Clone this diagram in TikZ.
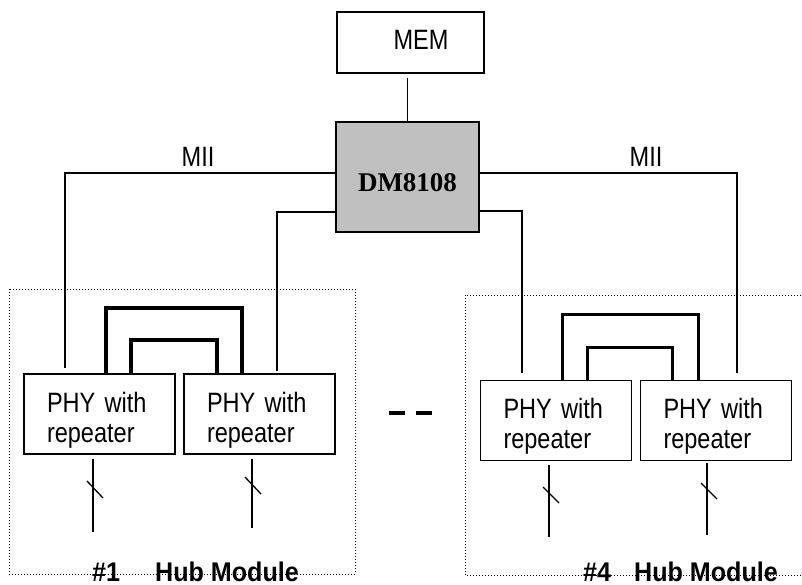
\documentclass[tikz,border=0pt]{standalone}
\usepackage{fontspec}
\setmainfont{Liberation Sans}
\newfontfamily\narrowsans[FakeStretch=0.84]{Liberation Sans}
\newfontfamily\hubsans[FakeStretch=0.93]{Liberation Sans}
\newfontfamily\chipserif{Liberation Serif}
\usetikzlibrary{calc}
\definecolor{dmgray}{RGB}{192,192,192}
\begin{document}
\begin{tikzpicture}[x=1pt,y=-1pt,
  wire/.style={line width=1.3pt},
  bus/.style={line width=3.5pt},
  boxed/.style={draw, line width=1.8pt, rectangle, inner sep=0pt},
  phy/.style={boxed, minimum width=151pt, minimum height=80pt, inner ysep=0pt,
    inner xsep=23pt, text width=105pt, align=left,
    font=\narrowsans\fontsize{28}{30}\selectfont},
  lbl/.style={inner sep=0pt, font=\narrowsans\fontsize{28}{30}\selectfont},
  hublbl/.style={inner sep=0pt, anchor=base west, font=\hubsans\bfseries\fontsize{27}{30}\selectfont},
  hubline/.style={line width=1pt, dash pattern=on 1pt off 2pt},
  dashmark/.style={line width=4pt}]
\useasboundingbox (0,0) rectangle (802,584);
\clip (0,0) rectangle (802,584);
\fill[white] (0,0) rectangle (802,584);

% hub module frames
\draw[hubline] (9,289) rectangle (355,574);
\draw[hubline] (465,295) rectangle (815,575);

% main blocks
\node[boxed, minimum width=147pt, minimum height=61pt, text height=13.5pt, text depth=0pt,
  font=\narrowsans\fontsize{28}{30}\selectfont] (mem) at (410.5,42.5) {\hspace*{21pt}MEM};
\node[boxed, fill=dmgray, minimum width=143pt, minimum height=110pt, text height=29.8pt, text depth=0pt,
  font=\chipserif\bfseries\fontsize{27}{30}\selectfont] (dm) at (407.5,177) {DM8108};

% PHY blocks
\node[phy] (p1) at (99.5,414) {\rule{0pt}{31.9pt}PHY with\\repeater};
\node[phy] (p2) at (259.5,414) {\rule{0pt}{31.9pt}PHY with\\repeater};
\node[phy] (p3) at (556,420.5) {\rule{0pt}{31.9pt}PHY with\\repeater};
\node[phy] (p4) at (716,420.5) {\rule{0pt}{31.9pt}PHY with\\repeater};

% free ends and levels
\coordinate (t1) at (65,368);
\coordinate (t2) at (277,371);
\coordinate (t3) at (522,373);
\coordinate (t4) at (737,373);
\coordinate (r1) at (0,173);
\coordinate (r2) at (0,212);
\coordinate (r3) at (0,211);
\coordinate (b1) at (93,532);
\coordinate (b2) at (252,528);
\coordinate (b3) at (549,537);
\coordinate (b4) at (707,535);

% connectors
\draw[wire] (mem.south -| dm.north) ++(0,4) -- (dm.north);
\draw[wire] (dm.west |- r1) -| (t1);
\draw[wire] (dm.west |- r2) -| (t2);
\draw[wire] (dm.east |- r1) -| (t4);
\draw[wire] (dm.east |- r3) -| (t3);

% repeater buses
\draw[bus] ([xshift=83pt]p1.north west) -- ++(0,-65) -| ([xshift=59pt]p2.north west);
\draw[bus] ([xshift=108pt]p1.north west) -- ++(0,-33) -| ([xshift=34pt]p2.north west);
\draw[bus] ([xshift=83pt]p3.north west) -- ++(0,-65) -| ([xshift=59pt]p4.north west);
\draw[bus] ([xshift=108pt]p3.north west) -- ++(0,-32) -| ([xshift=33pt]p4.north west);

% port lines with slash marks
\draw[wire] (b1 |- p1.south) ++(0,4) -- (b1);
\draw[wire] (b2 |- p2.south) ++(0,4) -- (b2);
\draw[wire] (b3 |- p3.south) ++(0,4) -- (b3);
\draw[wire] (b4 |- p4.south) ++(0,2) -- (b4);
\draw[wire] ($(b1)+(-6,-51)$) -- ++(16,17);
\draw[wire] ($(b2)+(-7,-51)$) -- ++(16,17);
\draw[wire] ($(b3)+(-6,-50)$) -- ++(16,16);
\draw[wire] ($(b4)+(-6,-52)$) -- ++(16,16);

% ellipsis dashes
\draw[dashmark] (389,413) -- (405,413);
\draw[dashmark] (416,413) -- (432,413);

% labels
\node[lbl, anchor=base] (mii1) at (198,166) {MII};
\node[lbl, anchor=base] (mii2) at (646,166) {MII};
\node[hublbl] (h1n) at (92,581) {\#1};
\node[hublbl] (h1t) at (155,581) {Hub Module};
\node[hublbl] (h4n) at (583,581) {\#4};
\node[hublbl] (h4t) at (634,581) {Hub Module};
\end{tikzpicture}
\end{document}
